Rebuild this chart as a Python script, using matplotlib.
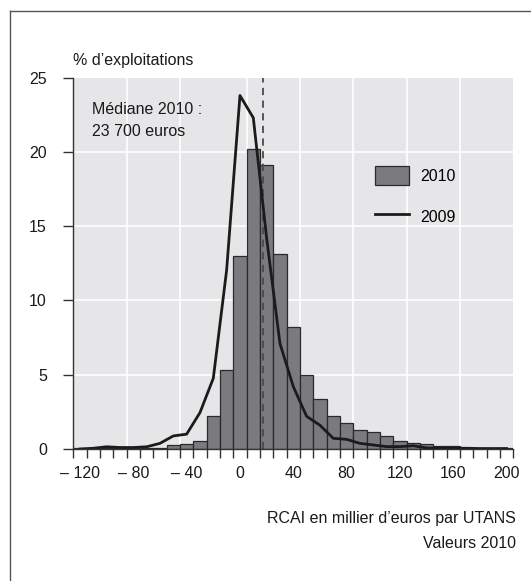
import numpy as np
import matplotlib.pyplot as plt
from matplotlib.lines import Line2D
from matplotlib.patches import Patch

plt.rcParams['font.family'] = ['Liberation Sans', 'DejaVu Sans']

# RCAI classes (thousand euros), width 10
classes = list(range(-120, 201, 10))

# 2010 distribution (% of farms)
pct_2010 = [0.05, 0.05, 0.05, 0.05, 0.05, 0.05, 0.05, 0.25, 0.35, 0.55,
            2.25, 5.3, 13.0, 20.2, 19.1, 13.1, 8.2, 4.95, 3.35, 2.2,
            1.73, 1.26, 1.12, 0.85, 0.53, 0.38, 0.34, 0.22, 0.2, 0.1,
            0.05, 0.05, 0.05]

# 2009 distribution (% of farms)
pct_2009 = [0.0, 0.05, 0.15, 0.1, 0.1, 0.15, 0.38, 0.88, 1.0, 2.45,
            4.76, 12.05, 23.8, 22.3, 14.2, 7.1, 4.2, 2.2, 1.6, 0.72,
            0.65, 0.38, 0.27, 0.16, 0.16, 0.22, 0.07, 0.05, 0.05, 0.05,
            0.03, 0.03, 0.03]

median_2010 = 17   # position of the median marker on the class axis
xlabels = ['\u2013 120', '\u2013 80', '\u2013 40', '0', '40', '80', '120', '160', '200']
xlabel_pos = [-120, -80, -40, 0, 40, 80, 120, 160, 200]
vgrid = [-85, -45, 5, 45, 85, 125, 165]

fs = 11.5
tc = '#1a1a1a'

fig = plt.figure(figsize=(5.31, 5.81), dpi=100)
ax = fig.add_axes([73.3 / 531, 132 / 581, 440 / 531, 371.3 / 581])
ax.set_facecolor('#e6e6e8')

for g in vgrid:
    ax.axvline(g, color='white', lw=1.2, zorder=1)
for g in [5, 10, 15, 20]:
    ax.axhline(g, color='white', lw=1.2, zorder=1)

ax.bar(classes, pct_2010, width=10, color='#7b7b7f', edgecolor='#2a2a2a',
       linewidth=0.9, zorder=2)
ax.plot(classes, pct_2009, color='#1e1a1a', lw=2, zorder=4)
ax.plot([median_2010, median_2010], [0, 25], color='#4a4a4a', lw=1.3,
        ls=(0, (4, 3)), zorder=3)

ax.set_xlim(-125, 205)
ax.set_ylim(0, 25)

for s in ['top', 'right']:
    ax.spines[s].set_visible(False)
for s in ['left', 'bottom']:
    ax.spines[s].set_color('#333333')
    ax.spines[s].set_linewidth(1.0)
    ax.spines[s].set_zorder(5)

ax.set_yticks([0, 5, 10, 15, 20, 25])
ax.tick_params(axis='y', direction='out', length=7, width=1, color='#333333',
               labelsize=fs, pad=12, labelcolor=tc)
ax.set_xticks(np.arange(-125, 206, 10))
ax.set_xticklabels([])
ax.tick_params(axis='x', which='major', direction='out', length=6.5, width=1,
               color='#333333')
ax.set_xticks(xlabel_pos, minor=True)
ax.set_xticklabels(xlabels, minor=True)
ax.tick_params(axis='x', which='minor', length=0, labelsize=fs, pad=12,
               labelcolor=tc)

fig.text(92 / 531, 1 - 110 / 581, 'Médiane 2010 :', fontsize=fs, va='center',
         ha='left', color=tc)
fig.text(92 / 531, 1 - 131 / 581, '23 700 euros', fontsize=fs, va='center',
         ha='left', color=tc)
fig.text(73 / 531, 1 - 61 / 581, '% d\u2019exploitations', fontsize=fs,
         va='center', ha='left', color=tc)
fig.text(516 / 531, 1 - 518 / 581, 'RCAI en millier d\u2019euros par UTANS',
         fontsize=fs, va='center', ha='right', color=tc)
fig.text(516 / 531, 1 - 543 / 581, 'Valeurs 2010', fontsize=fs, va='center',
         ha='right', color=tc)

handles = [Patch(facecolor='#7b7b7f', edgecolor='#2a2a2a', linewidth=0.9),
           Line2D([0], [0], color='#1e1a1a', lw=2)]
ax.legend(handles, ['2010', '2009'], loc='upper left',
          bbox_to_anchor=((361 - 73.3) / 440, (449 - 152) / 371.3),
          frameon=False, fontsize=fs, handlelength=2.1, handleheight=1.4,
          labelspacing=1.4, handletextpad=0.7)

# outer frame (top and left edges only)
fig.add_artist(Line2D([10 / 531, 1], [1 - 11 / 581, 1 - 11 / 581],
                      transform=fig.transFigure, color='#555555', lw=1))
fig.add_artist(Line2D([10 / 531, 10 / 531], [0, 1 - 11 / 581],
                      transform=fig.transFigure, color='#555555', lw=1))

fig.savefig('out.png', dpi=100)
